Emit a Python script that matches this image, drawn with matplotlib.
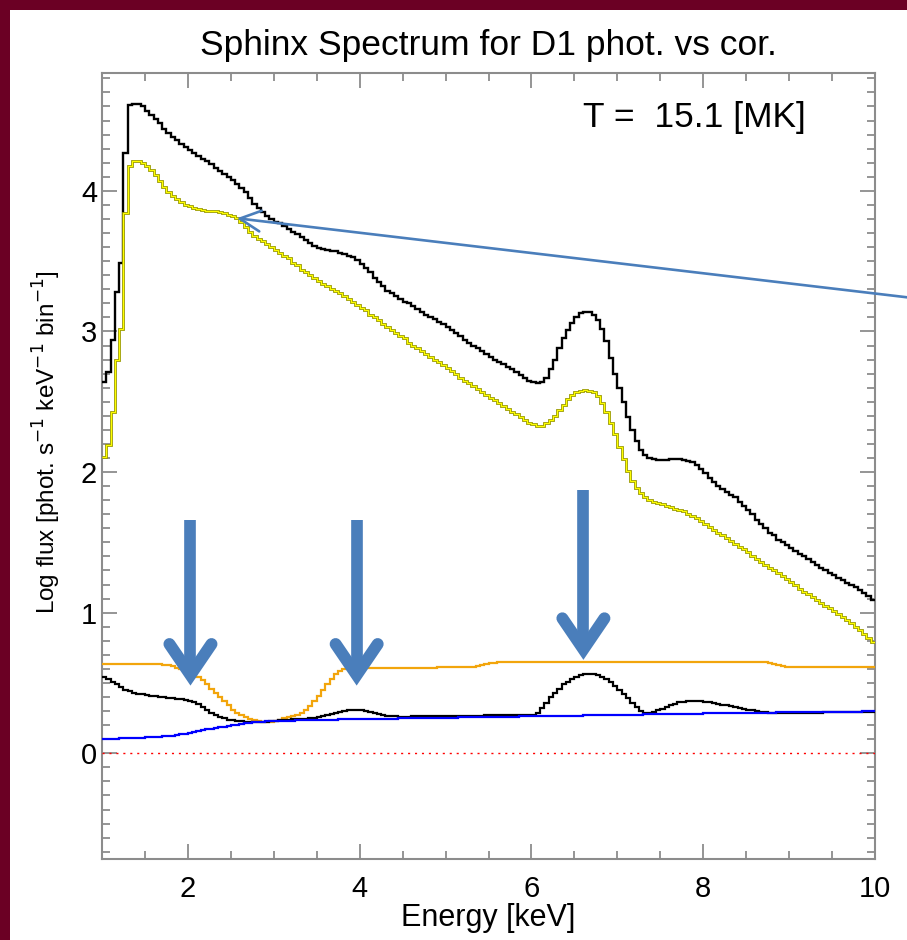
import numpy as np
import matplotlib
matplotlib.use("Agg")
import matplotlib.pyplot as plt
from matplotlib.patches import Rectangle

plt.rcParams["font.family"] = ["Liberation Sans", "DejaVu Sans"]

# Energy binning of the spectra [keV]
e_min, e_max, bin_width = 1.0, 10.0, 0.05

# Photospheric-abundance model spectrum (log flux per bin)
phot_flux = [
    2.64, 2.71, 2.94, 3.28, 3.49, 4.27, 4.61, 4.62, 4.62, 4.60, 4.57, 4.54, 4.51, 4.48, 4.44, 4.41, 4.38, 4.36, 4.33, 4.31,
    4.29, 4.27, 4.25, 4.23, 4.21, 4.19, 4.16, 4.14, 4.12, 4.10, 4.08, 4.05, 4.02, 3.99, 3.95, 3.91, 3.88, 3.85, 3.82, 3.80,
    3.78, 3.77, 3.75, 3.73, 3.71, 3.69, 3.67, 3.65, 3.63, 3.61, 3.59, 3.585, 3.58, 3.575, 3.57, 3.56, 3.55, 3.54, 3.53, 3.51,
    3.48, 3.45, 3.42, 3.38, 3.35, 3.32, 3.29, 3.27, 3.25, 3.23, 3.21, 3.20, 3.18, 3.16, 3.14, 3.12, 3.10, 3.09, 3.07, 3.05,
    3.03, 3.01, 2.99, 2.97, 2.94, 2.92, 2.90, 2.88, 2.86, 2.84, 2.82, 2.80, 2.78, 2.77, 2.75, 2.73, 2.71, 2.69, 2.67, 2.65,
    2.64, 2.63, 2.64, 2.67, 2.73, 2.80, 2.88, 2.95, 3.01, 3.06, 3.10, 3.13, 3.14, 3.14, 3.12, 3.08, 3.02, 2.93, 2.81, 2.70,
    2.60, 2.50, 2.39, 2.30, 2.22, 2.16, 2.12, 2.10, 2.09, 2.085, 2.085, 2.085, 2.09, 2.09, 2.09, 2.085, 2.08, 2.07, 2.05, 2.02,
    1.99, 1.96, 1.93, 1.90, 1.88, 1.86, 1.84, 1.82, 1.79, 1.76, 1.73, 1.70, 1.66, 1.63, 1.60, 1.57, 1.55, 1.52, 1.50, 1.48,
    1.46, 1.44, 1.42, 1.40, 1.38, 1.36, 1.34, 1.32, 1.30, 1.28, 1.27, 1.25, 1.23, 1.21, 1.20, 1.18, 1.16, 1.14, 1.12, 1.09,
]

# Coronal-abundance model spectrum (log flux per bin)
cor_flux = [
    2.11, 2.19, 2.43, 2.80, 3.02, 3.84, 4.18, 4.21, 4.21, 4.20, 4.18, 4.15, 4.11, 4.07, 4.03, 3.99, 3.96, 3.94, 3.92, 3.90,
    3.89, 3.88, 3.87, 3.865, 3.86, 3.86, 3.855, 3.85, 3.84, 3.83, 3.82, 3.81, 3.78, 3.74, 3.71, 3.68, 3.66, 3.64, 3.62, 3.60,
    3.58, 3.56, 3.54, 3.52, 3.49, 3.47, 3.44, 3.42, 3.40, 3.38, 3.36, 3.34, 3.32, 3.30, 3.29, 3.27, 3.25, 3.23, 3.21, 3.19,
    3.17, 3.15, 3.12, 3.10, 3.08, 3.05, 3.03, 3.01, 2.99, 2.97, 2.95, 2.92, 2.90, 2.88, 2.86, 2.84, 2.82, 2.80, 2.78, 2.76,
    2.74, 2.72, 2.70, 2.67, 2.65, 2.63, 2.61, 2.59, 2.57, 2.55, 2.53, 2.51, 2.49, 2.47, 2.45, 2.43, 2.41, 2.39, 2.37, 2.35,
    2.34, 2.33, 2.33, 2.35, 2.37, 2.40, 2.44, 2.48, 2.52, 2.55, 2.57, 2.58, 2.585, 2.58, 2.57, 2.54, 2.49, 2.43, 2.35, 2.27,
    2.18, 2.09, 2.01, 1.94, 1.89, 1.85, 1.82, 1.80, 1.79, 1.78, 1.77, 1.76, 1.75, 1.74, 1.73, 1.72, 1.70, 1.69, 1.67, 1.65,
    1.63, 1.61, 1.59, 1.57, 1.55, 1.53, 1.51, 1.49, 1.47, 1.45, 1.43, 1.40, 1.38, 1.36, 1.34, 1.32, 1.30, 1.28, 1.26, 1.24,
    1.22, 1.20, 1.17, 1.15, 1.13, 1.11, 1.09, 1.07, 1.05, 1.03, 1.01, 0.99, 0.97, 0.95, 0.93, 0.90, 0.88, 0.85, 0.82, 0.79,
]

# Log ratio phot./cor.
ratio_flux = [
    0.635, 0.635, 0.635, 0.635, 0.635, 0.635, 0.635, 0.635, 0.635, 0.635, 0.635, 0.635, 0.634, 0.633, 0.630, 0.625, 0.620, 0.610, 0.600, 0.590,
    0.575, 0.560, 0.540, 0.520, 0.490, 0.460, 0.430, 0.400, 0.370, 0.340, 0.310, 0.290, 0.270, 0.255, 0.245, 0.235, 0.228, 0.224, 0.222, 0.226,
    0.232, 0.240, 0.248, 0.256, 0.265, 0.275, 0.290, 0.310, 0.335, 0.370, 0.410, 0.450, 0.490, 0.530, 0.565, 0.585, 0.600, 0.605, 0.605, 0.605,
    0.605, 0.605, 0.605, 0.605, 0.605, 0.606, 0.607, 0.608, 0.609, 0.610, 0.610, 0.610, 0.610, 0.610, 0.610, 0.610, 0.610, 0.610, 0.611, 0.612,
    0.612, 0.612, 0.613, 0.613, 0.614, 0.614, 0.615, 0.620, 0.625, 0.632, 0.640, 0.645, 0.648, 0.650, 0.652, 0.652, 0.652, 0.652, 0.652, 0.652,
    0.652, 0.652, 0.652, 0.652, 0.652, 0.652, 0.652, 0.652, 0.652, 0.652, 0.652, 0.652, 0.652, 0.652, 0.652, 0.652, 0.652, 0.652, 0.652, 0.652,
    0.652, 0.652, 0.652, 0.652, 0.652, 0.652, 0.652, 0.652, 0.652, 0.652, 0.652, 0.652, 0.652, 0.652, 0.652, 0.652, 0.652, 0.652, 0.652, 0.652,
    0.652, 0.652, 0.652, 0.652, 0.652, 0.652, 0.652, 0.652, 0.652, 0.652, 0.652, 0.652, 0.652, 0.652, 0.650, 0.645, 0.637, 0.628, 0.620, 0.616,
    0.615, 0.615, 0.615, 0.615, 0.615, 0.615, 0.615, 0.615, 0.615, 0.615, 0.615, 0.615, 0.615, 0.615, 0.615, 0.615, 0.615, 0.615, 0.615, 0.615,
]

# Log line-to-continuum ratio
line_flux = [
    0.540, 0.530, 0.510, 0.490, 0.470, 0.450, 0.440, 0.430, 0.425, 0.420, 0.415, 0.410, 0.405, 0.400, 0.400, 0.395, 0.390, 0.385, 0.385, 0.380,
    0.375, 0.365, 0.350, 0.330, 0.310, 0.290, 0.275, 0.260, 0.250, 0.240, 0.235, 0.230, 0.227, 0.225, 0.224, 0.224, 0.224, 0.224, 0.226, 0.228,
    0.232, 0.235, 0.238, 0.240, 0.242, 0.243, 0.244, 0.245, 0.248, 0.252, 0.258, 0.265, 0.272, 0.280, 0.288, 0.296, 0.302, 0.306, 0.308, 0.308,
    0.305, 0.300, 0.294, 0.287, 0.280, 0.274, 0.268, 0.264, 0.262, 0.261, 0.261, 0.261, 0.262, 0.262, 0.262, 0.263, 0.263, 0.263, 0.264, 0.264,
    0.265, 0.265, 0.265, 0.266, 0.266, 0.267, 0.267, 0.268, 0.268, 0.269, 0.269, 0.270, 0.270, 0.271, 0.272, 0.272, 0.273, 0.273, 0.274, 0.274,
    0.275, 0.290, 0.320, 0.360, 0.400, 0.430, 0.460, 0.490, 0.510, 0.530, 0.545, 0.555, 0.562, 0.565, 0.563, 0.555, 0.545, 0.530, 0.510, 0.480,
    0.450, 0.420, 0.390, 0.360, 0.330, 0.300, 0.288, 0.287, 0.295, 0.305, 0.318, 0.330, 0.342, 0.353, 0.362, 0.368, 0.373, 0.375, 0.375, 0.372,
    0.368, 0.363, 0.358, 0.352, 0.346, 0.340, 0.334, 0.328, 0.322, 0.316, 0.310, 0.305, 0.300, 0.296, 0.292, 0.290, 0.289, 0.288, 0.288, 0.288,
    0.288, 0.288, 0.289, 0.289, 0.289, 0.290, 0.290, 0.290, 0.291, 0.291, 0.292, 0.292, 0.292, 0.293, 0.293, 0.294, 0.294, 0.295, 0.295, 0.296,
]

# Log continuum ratio
cont_flux = [
    0.102, 0.103, 0.104, 0.105, 0.106, 0.107, 0.108, 0.109, 0.110, 0.111, 0.113, 0.114, 0.116, 0.118, 0.120, 0.123, 0.126, 0.130, 0.134, 0.139,
    0.145, 0.152, 0.158, 0.164, 0.170, 0.175, 0.180, 0.185, 0.190, 0.195, 0.200, 0.204, 0.208, 0.212, 0.216, 0.220, 0.223, 0.225, 0.227, 0.228,
    0.229, 0.230, 0.231, 0.232, 0.233, 0.234, 0.235, 0.236, 0.236, 0.237, 0.238, 0.238, 0.239, 0.240, 0.240, 0.241, 0.241, 0.242, 0.242, 0.243,
    0.243, 0.244, 0.244, 0.245, 0.245, 0.246, 0.246, 0.247, 0.247, 0.248, 0.248, 0.249, 0.249, 0.250, 0.250, 0.251, 0.251, 0.252, 0.252, 0.253,
    0.253, 0.254, 0.254, 0.255, 0.255, 0.256, 0.256, 0.257, 0.257, 0.258, 0.258, 0.259, 0.259, 0.260, 0.260, 0.261, 0.261, 0.262, 0.262, 0.263,
    0.263, 0.264, 0.264, 0.264, 0.265, 0.265, 0.266, 0.266, 0.267, 0.267, 0.268, 0.268, 0.269, 0.269, 0.270, 0.270, 0.271, 0.271, 0.272, 0.272,
    0.273, 0.273, 0.274, 0.274, 0.275, 0.275, 0.276, 0.276, 0.277, 0.277, 0.278, 0.278, 0.279, 0.279, 0.280, 0.280, 0.281, 0.281, 0.282, 0.282,
    0.283, 0.283, 0.284, 0.284, 0.285, 0.285, 0.286, 0.286, 0.287, 0.287, 0.288, 0.288, 0.289, 0.289, 0.290, 0.290, 0.290, 0.291, 0.291, 0.292,
    0.292, 0.292, 0.293, 0.293, 0.293, 0.294, 0.294, 0.294, 0.295, 0.295, 0.295, 0.296, 0.296, 0.296, 0.297, 0.297, 0.297, 0.298, 0.298, 0.298,
]

temperature_mk = 15.1
title_text = "Sphinx Spectrum for D1 phot. vs cor."
x_ticks = [2, 4, 6, 8, 10]
y_ticks = [0, 1, 2, 3, 4]
y_range = (-0.754, 4.836)

# Highlighted energies (down arrows): energy, arrow tip, arrow tail
callout_kev = [2.03, 3.965, 6.605]
callout_tip = [0.557, 0.557, 0.74]
callout_tail = [1.66, 1.66, 1.87]
pointer_target = (2.57, 3.805)

n_bins = int(round((e_max - e_min) / bin_width))
edges = np.linspace(e_min, e_max, n_bins + 1)

W, H = 907, 940
fig = plt.figure(figsize=(W / 100, H / 100), dpi=100)
fig.patch.set_facecolor("white")
border = "#6b0024"
fig.patches.append(Rectangle((0, 1 - 10 / H), 1, 10 / H, transform=fig.transFigure,
                             facecolor=border, edgecolor="none", zorder=0))
fig.patches.append(Rectangle((0, 0), 10 / W, 1, transform=fig.transFigure,
                             facecolor=border, edgecolor="none", zorder=0))

left, right, top, bottom = 102 / W, 875 / W, 1 - 73.3 / H, 1 - 859.3 / H
ax = fig.add_axes([left, bottom, right - left, top - bottom])
ax.set_xlim(e_min, e_max)
ax.set_ylim(*y_range)

# Spectra and ratios as histograms
ax.stairs(phot_flux, edges, baseline=None, color="black", lw=1.7, zorder=4)
ax.stairs(cor_flux, edges, baseline=None, color="#9a9a00", lw=2.0, zorder=4)
ax.stairs(cor_flux, edges, baseline=None, color="#ffff00", lw=0.8, zorder=4.1)
ax.stairs(ratio_flux, edges, baseline=None, color="#f2a50c", lw=1.6, zorder=4)
ax.stairs(line_flux, edges, baseline=None, color="black", lw=1.6, zorder=4)
ax.stairs(cont_flux, edges, baseline=None, color="#0000ff", lw=1.6, zorder=4.2)
ax.axhline(0, color="#ff0000", lw=1.0, dashes=(1.5, 3.5), zorder=3)

ax.text(6.60, 4.52, "T =  %.1f [MK]" % temperature_mk, fontsize=25.5, ha="left", va="center")

# Axes styling
axis_grey = "#8c8c8c"
for s in ax.spines.values():
    s.set_color(axis_grey)
    s.set_linewidth(1.5)
ax.set_xticks(x_ticks)
ax.set_yticks(y_ticks)
ax.set_xticks(np.arange(1.0, 10.01, 0.5), minor=True)
ax.set_yticks(np.arange(-0.7, 4.85, 0.1), minor=True)
ax.tick_params(which="both", direction="in", top=True, right=True, color=axis_grey, width=1.3)
ax.tick_params(which="major", length=11)
ax.tick_params(which="minor", length=5.5)
ax.tick_params(axis="x", labelsize=21, pad=11)
ax.tick_params(axis="y", labelsize=21, pad=3.5)

ax.set_xlabel("Energy [keV]", fontsize=22, labelpad=0)
ax.set_ylabel(r"Log flux [phot. s$^{-1}$ keV$^{-1}$ bin$^{-1}$]", fontsize=17.5)
ax.yaxis.set_label_coords(-0.050, 0.531)
fig.text((left + right) / 2, 1 - 45 / H, title_text, fontsize=25.5, ha="center", va="center")

# Callout arrows
arrow_blue = "#4a7ebb"
for e, tip, tail in zip(callout_kev, callout_tip, callout_tail):
    ax.plot([e, e], [tail, tip + 0.03], color=arrow_blue, lw=8.4,
            solid_capstyle="butt", zorder=6, clip_on=False)
    ax.plot([e - 0.245, e, e + 0.245], [tip + 0.22, tip, tip + 0.22], color=arrow_blue,
            lw=8.6, solid_capstyle="round", solid_joinstyle="miter", zorder=6, clip_on=False)

ax.annotate("", xy=pointer_target, xycoords="data",
            xytext=(1.0, 1 - 297.3 / H), textcoords="figure fraction",
            arrowprops=dict(arrowstyle="->,head_length=1.0,head_width=0.5", color=arrow_blue,
                            lw=1.9, shrinkA=0, shrinkB=0, mutation_scale=15),
            annotation_clip=False, zorder=7)

fig.savefig("out.png", dpi=100, facecolor="white")
